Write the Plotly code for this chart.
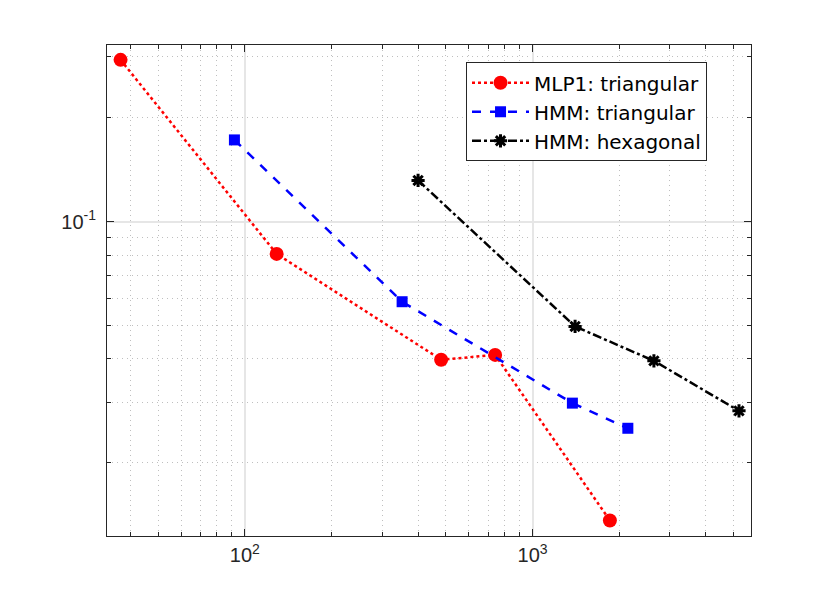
import plotly.graph_objects as go

# MLP1: triangular
mlp_tri_x = [37, 129, 481, 741, 1856]
mlp_tri_y = [0.294, 0.0806, 0.0398, 0.0411, 0.01363]

# HMM: triangular
hmm_tri_x = [92, 352, 1375, 2143]
hmm_tri_y = [0.1724, 0.0586, 0.0298, 0.0252]

# HMM: hexagonal
hmm_hex_x = [400, 1405, 2640, 5215]
hmm_hex_y = [0.1316, 0.0497, 0.0395, 0.0283]

x_major = [100, 1000]
x_major_text = ["10<sup>2</sup>", "10<sup>3</sup>"]
x_minor = [40, 50, 60, 70, 80, 90, 200, 300, 400, 500, 600, 700, 800, 900,
           2000, 3000, 4000, 5000]
y_major = [0.1]
y_major_text = ["10<sup>-1</sup>"]
y_minor = [0.02, 0.03, 0.04, 0.05, 0.06, 0.07, 0.08, 0.09, 0.2, 0.3]

fig = go.Figure()
fig.add_trace(go.Scatter(
    x=mlp_tri_x, y=mlp_tri_y, name="MLP1: triangular", mode="lines+markers",
    line=dict(color="#ff0000", width=2.5, dash="dot"),
    marker=dict(symbol="circle", size=14, color="#ff0000"),
))
fig.add_trace(go.Scatter(
    x=hmm_tri_x, y=hmm_tri_y, name="HMM: triangular", mode="lines+markers",
    line=dict(color="#0000ff", width=2.5, dash="dash"),
    marker=dict(symbol="square", size=11, color="#0000ff"),
))
fig.add_trace(go.Scatter(
    x=hmm_hex_x, y=hmm_hex_y, name="HMM: hexagonal", mode="lines+markers",
    line=dict(color="#000000", width=2.5, dash="dashdot"),
    marker=dict(symbol="asterisk", size=11, color="#000000",
                line=dict(color="#000000", width=3)),
))

axis_common = dict(
    showline=True, linecolor="#262626", linewidth=1, mirror="allticks",
    ticks="inside", ticklen=7, tickcolor="#262626",
    showgrid=True, gridcolor="#e6e6e6", gridwidth=1.5,
    zeroline=False,
    tickfont=dict(size=20, color="#262626"),
)
minor_common = dict(
    tickmode="array", ticks="inside", ticklen=4, tickcolor="#262626",
    showgrid=True, gridcolor="#bfbfbf", griddash="1px,4px", gridwidth=1,
)

fig.update_xaxes(
    type="log", range=[1.521, 3.759],
    tickmode="array", tickvals=x_major, ticktext=x_major_text,
    minor=dict(tickvals=x_minor, **minor_common),
    ticklabelstandoff=1,
    **axis_common,
)
fig.update_yaxes(
    type="log", range=[-1.9106, -0.4886],
    tickmode="array", tickvals=y_major, ticktext=y_major_text,
    minor=dict(tickvals=y_minor, **minor_common),
    ticklabelstandoff=6,
    **axis_common,
)

fig.update_layout(
    width=830, height=602,
    margin=dict(l=99, r=87, t=37, b=74),
    plot_bgcolor="white", paper_bgcolor="white",
    font=dict(family="Liberation Sans, Arial, sans-serif", color="#000000"),
    legend=dict(
        x=0.5575, y=0.9648, xanchor="left", yanchor="top",
        bgcolor="white", bordercolor="#262626", borderwidth=1,
        font=dict(size=20, color="#000000", family="DejaVu Sans, sans-serif"),
        itemwidth=57, tracegroupgap=0,
        entrywidth=196, entrywidthmode="pixels",
    ),
    showlegend=True,
)

fig.write_html("out.html")
